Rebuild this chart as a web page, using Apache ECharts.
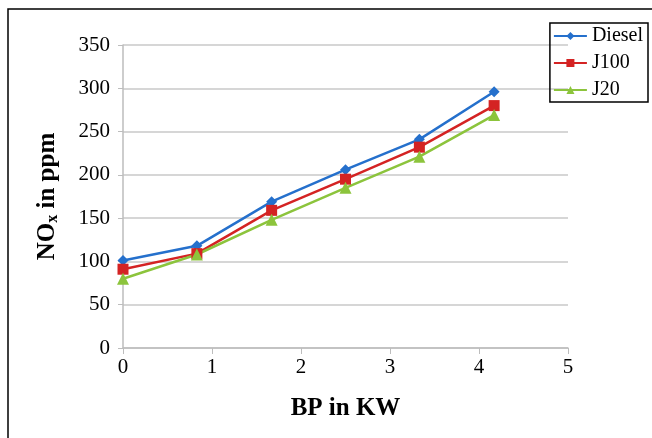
<!DOCTYPE html>
<html>
<head>
<meta charset="utf-8">
<script src="https://cdn.jsdelivr.net/npm/echarts@6/dist/echarts.min.js"></script>
<style>
  html, body { margin: 0; padding: 0; background: #fff; }
  #main { width: 652px; height: 438px; }
</style>
</head>
<body>
<div id="main"></div>
<script>
// values
var bp = [0, 0.83, 1.67, 2.5, 3.33, 4.17];
var diesel = [101, 118, 169, 206, 241, 296];
var j100 = [91, 109, 159, 195, 232, 280];
var j20 = [80, 108, 148, 185, 221, 269];

function pairs(ys) {
    return bp.map(function (x, i) { return [x, ys[i]]; });
}

var myChart = echarts.init(document.getElementById('main'));
var serif = 'Liberation Serif';

myChart.setOption({
    animation: false,
    grid: { left: 123, right: 84, top: 45, bottom: 90 },
    graphic: [{
        type: 'rect',
        shape: { x: 8, y: 9, width: 700, height: 500 },
        style: { fill: 'none', stroke: '#000', lineWidth: 1.5 },
        silent: true
    }],
    legend: {
        orient: 'vertical',
        right: 4,
        top: 23,
        padding: [3, 5, 2, 3],
        itemGap: 7,
        itemWidth: 33,
        itemHeight: 10,
        borderColor: '#000',
        borderWidth: 1.5,
        textStyle: { fontFamily: serif, fontSize: 20, color: '#000' },
        data: ['Diesel', 'J100', 'J20']
    },
    xAxis: {
        type: 'value',
        min: 0, max: 5, interval: 1,
        name: 'BP in KW',
        nameLocation: 'middle',
        nameGap: 48,
        nameTextStyle: { fontFamily: serif, fontSize: 25, fontWeight: 'bold', color: '#000' },
        axisLine: { lineStyle: { color: '#bdbdbd', width: 1.5 } },
        axisTick: { show: true, length: 6, lineStyle: { color: '#bdbdbd' } },
        axisLabel: { fontFamily: serif, fontSize: 21, color: '#000', margin: 9 },
        splitLine: { show: false }
    },
    yAxis: {
        type: 'value',
        min: 0, max: 350, interval: 50,
        name: '{b|NO}{s|x}{b| in ppm}',
        nameLocation: 'middle',
        nameGap: 62,
        nameTextStyle: {
            rich: {
                b: { fontFamily: serif, fontSize: 25, fontWeight: 'bold', color: '#000' },
                s: { fontFamily: serif, fontSize: 16, fontWeight: 'bold', color: '#000', verticalAlign: 'bottom', padding: [10, 0, 0, 0] }
            }
        },
        axisLine: { show: true, lineStyle: { color: '#bdbdbd', width: 1.5 } },
        axisTick: { show: true, length: 5, lineStyle: { color: '#bdbdbd' } },
        axisLabel: { fontFamily: serif, fontSize: 21, color: '#000', margin: 13 },
        splitLine: { show: true, lineStyle: { color: '#c8c8c8', width: 1.5 } }
    },
    series: [{
        name: 'Diesel',
        type: 'line',
        data: pairs(diesel),
        symbol: 'diamond',
        symbolSize: 11,
        color: '#2570cc',
        lineStyle: { width: 2.5 }
    }, {
        name: 'J100',
        type: 'line',
        data: pairs(j100),
        symbol: 'rect',
        symbolSize: 11,
        color: '#d42323',
        lineStyle: { width: 2.5 }
    }, {
        name: 'J20',
        type: 'line',
        data: pairs(j20),
        symbol: 'triangle',
        symbolSize: 12,
        color: '#8cc43c',
        lineStyle: { width: 2.5 }
    }]
});
</script>
</body>
</html>
